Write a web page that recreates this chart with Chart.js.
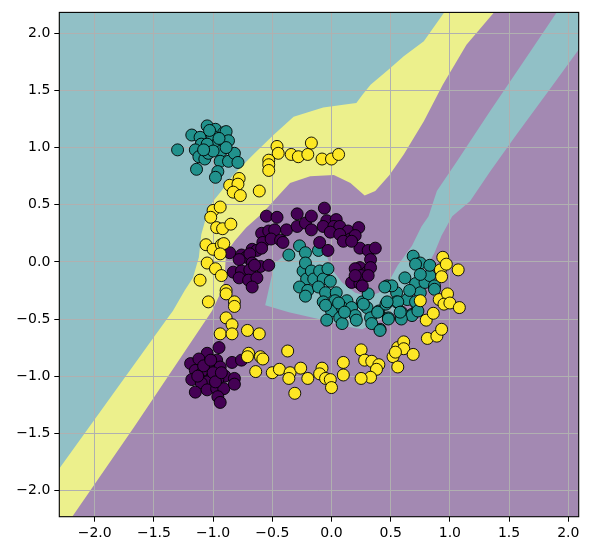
<!DOCTYPE html>
<html>
<head>
<meta charset="UTF-8" />
<title>Decision regions</title>
<style>
  html, body { margin: 0; padding: 0; background: #fff; }
  .wrap { width: 592px; height: 554px; }
</style>
</head>
<body>
<div class="wrap"><canvas id="plot"></canvas></div>
<script src="https://cdn.jsdelivr.net/npm/chart.js@4/dist/chart.umd.min.js"></script>
<script>
// axis ranges and ticks
const xRange = [-2.299, 2.088];
const yRange = [-2.23, 2.183];
const xTicks = [-2.0, -1.5, -1.0, -0.5, 0.0, 0.5, 1.0, 1.5, 2.0];
const yTicks = [-2.0, -1.5, -1.0, -0.5, 0.0, 0.5, 1.0, 1.5, 2.0];

// decision region outlines (data coordinates)
const yellowArea = [
  [-2.4, 2.3], [-2.4, -2.3], [-2.23, -2.3], [-2.19, -2.23], [-1.67, -1.45], [-1.01, -0.43],
  [-0.95, -0.30], [-0.91, -0.19], [-0.90, -0.08], [-0.89, 0.08], [-0.82, 0.18], [-0.72, 0.30],
  [-0.58, 0.43], [-0.43, 0.60], [-0.35, 0.69], [-0.18, 0.75], [0.02, 0.76], [0.16, 0.69],
  [0.28, 0.58], [0.37, 0.62], [0.49, 0.76], [0.61, 0.94], [0.78, 1.23], [0.94, 1.55],
  [1.14, 1.90], [1.37, 2.18], [1.42, 2.3]
];
const tealArea = [
  [-2.4, 2.3], [-2.4, -1.95], [-2.30, -1.81], [-1.39, -0.50], [-1.34, -0.43], [-1.24, -0.25],
  [-1.17, -0.14], [-1.12, 0.04], [-1.10, 0.24], [-1.05, 0.42], [-1.00, 0.53], [-0.93, 0.62],
  [-0.83, 0.76], [-0.66, 0.94], [-0.49, 1.11], [-0.32, 1.27], [-0.07, 1.35], [0.13, 1.38],
  [0.21, 1.39], [0.26, 1.46], [0.33, 1.55], [0.49, 1.69], [0.61, 1.80], [0.78, 1.93],
  [0.95, 2.18], [0.98, 2.3]
];
const tealBand = [
  [1.94, 2.3], [1.90, 2.18], [1.62, 1.75], [1.34, 1.32], [1.06, 0.88], [0.89, 0.62],
  [0.82, 0.40], [0.76, 0.31], [0.68, 0.14], [0.56, -0.03], [0.48, -0.18], [0.40, -0.27],
  [0.31, -0.30], [0.20, -0.27], [0.09, -0.18], [0.00, -0.06], [-0.05, 0.08], [-0.14, 0.11],
  [-0.31, 0.12], [-0.48, -0.01], [-0.56, -0.38], [-0.36, -0.44], [-0.11, -0.50], [0.09, -0.56],
  [0.26, -0.59], [0.37, -0.53], [0.48, -0.47], [0.60, -0.40], [0.72, -0.25], [0.80, -0.05],
  [0.87, 0.08], [0.93, 0.23], [1.02, 0.40], [1.17, 0.53], [1.34, 0.79], [1.56, 1.11],
  [1.85, 1.52], [2.09, 1.86], [2.2, 2.0], [2.2, 2.3]
];

// samples per class
const class0 = [
  [-0.95,-0.75],[-1.05,-0.80],[-1.19,-0.89],[-1.12,-0.85],[-1.15,-0.95],[-1.18,-1.03],[-1.10,-0.98],
  [-1.05,-0.95],[-1.00,-0.91],[-0.97,-0.86],[-0.94,-0.92],[-0.90,-1.00],[-0.96,-1.03],[-1.01,-1.01],
  [-1.05,-1.05],[-1.10,-1.06],[-1.15,-1.14],[-1.05,-1.12],[-0.97,-1.11],[-0.91,-1.11],[-0.96,-1.18],
  [-0.94,-1.23],[-0.84,-0.88],[-0.76,-0.86],[-0.82,-1.02],[-0.82,-1.07],[-1.00,-0.97],[-0.98,-1.05],
  [-1.08,-0.91],[-1.02,-0.86],[-1.13,-1.00],[-0.93,-0.97],
  [-0.55,0.40],[-0.46,0.39],[-0.29,0.42],[-0.59,0.25],[-0.53,0.27],[-0.48,0.28],[-0.38,0.28],
  [-0.29,0.31],[-0.22,0.34],[-0.58,0.17],[-0.51,0.20],[-0.43,0.19],[-0.41,0.17],[-0.67,0.11],
  [-0.63,0.10],[-0.59,0.12],[-0.86,0.08],[-0.76,0.06],[-0.72,0.04],[-0.69,0.07],[-0.78,0.02],
  [-0.67,-0.01],[-0.60,-0.04],[-0.83,-0.09],[-0.76,-0.08],[-0.69,-0.07],[-0.78,-0.14],[-0.70,-0.16],
  [-0.63,-0.14],[-0.67,-0.22],[-0.53,-0.03],[-0.65,-0.03],
  [-0.06,0.47],[-0.17,0.40],[-0.04,0.36],[0.04,0.37],[-0.17,0.28],[-0.07,0.31],[0.02,0.31],
  [0.07,0.31],[0.14,0.27],[0.23,0.30],[-0.01,0.26],[0.07,0.24],[0.16,0.20],[0.20,0.23],
  [-0.10,0.17],[-0.03,0.10],[0.10,0.18],[0.24,0.12],[0.31,0.10],[0.37,0.12],[0.33,0.02],
  [0.24,-0.05],[0.30,-0.09],[0.20,-0.06],[0.17,-0.18],[0.24,-0.19],[0.25,-0.12],[0.33,-0.05],
  [0.20,-0.12],[0.26,-0.21],[0.31,-0.12],[0.17,0.18]
];
const class1 = [
  [-1.30,0.98],[-1.18,1.11],[-1.11,1.09],[-1.05,1.19],[-0.98,1.16],[-0.91,1.13],[-0.89,1.14],
  [-0.87,1.06],[-1.01,1.11],[-1.10,1.03],[-1.15,0.98],[-1.12,0.92],[-1.07,0.90],[-1.04,0.95],
  [-0.97,1.03],[-0.93,0.97],[-0.94,0.88],[-0.87,0.88],[-0.82,0.95],[-0.79,0.87],[-1.14,0.81],
  [-0.96,0.79],[-0.98,0.74],[-0.89,1.00],[-1.05,1.03],[-1.00,0.97],[-1.03,1.15],[-0.95,1.08],
  [-1.08,0.98],
  [-0.36,0.06],[-0.27,0.14],[-0.22,0.08],[-0.11,0.10],[-0.24,-0.08],[-0.21,-0.15],[-0.27,-0.22],
  [-0.20,-0.25],[-0.22,-0.01],[-0.17,-0.08],[-0.15,-0.15],[-0.10,-0.08],[-0.07,-0.15],[-0.03,-0.06],
  [-0.11,-0.22],[-0.22,-0.30],[-0.05,-0.27],[0.04,-0.27],[-0.07,-0.35],[0.03,-0.34],[0.13,-0.34],
  [0.00,-0.43],[0.09,-0.40],[0.17,-0.40],[0.26,-0.35],[0.31,-0.28],[0.30,-0.40],[0.40,-0.43],
  [0.47,-0.21],[0.07,-0.49],[0.20,-0.47],[-0.04,-0.51],[0.33,-0.49],[0.41,-0.59],[0.48,-0.49],
  [0.55,-0.27],[0.09,-0.54],[0.21,-0.51],[0.27,-0.37],[0.34,-0.54],[0.39,-0.44],[0.46,-0.37],
  [-0.01,-0.17],[-0.05,-0.38],[0.06,-0.36],[0.11,-0.44],
  [0.62,-0.14],[0.64,-0.33],[0.68,-0.46],[0.71,-0.19],[0.75,-0.27],[0.79,-0.18],[0.83,-0.12],
  [0.87,-0.21],[0.72,-0.37],[0.59,-0.46],[0.55,-0.35],[0.69,0.05],[0.75,-0.01],[0.83,-0.03],
  [0.71,-0.02],[0.75,-0.11],[0.87,-0.24],[0.66,-0.25],[0.71,-0.35],[0.51,-0.21],[0.45,-0.22],
  [0.56,-0.35],[0.47,-0.35],[0.59,-0.44],[0.68,-0.47],[0.48,-0.50],[0.59,-0.50],[0.41,-0.60],
  [0.73,-0.43],[0.58,-0.44]
];
const class2 = [
  [-0.46,1.01],[-0.45,0.95],[-0.34,0.94],[-0.28,0.92],[-0.20,0.94],[-0.17,1.04],[-0.08,0.90],
  [0.00,0.90],[0.06,0.94],[-0.53,0.89],[-0.53,0.85],[-0.53,0.80],[-0.61,0.62],[-0.78,0.73],
  [-0.86,0.67],[-0.79,0.68],[-0.83,0.61],[-0.77,0.58],[-1.00,0.45],[-0.94,0.48],[-1.02,0.39],
  [-0.97,0.30],[-0.92,0.29],[-0.85,0.33],[-1.06,0.15],[-1.00,0.11],[-0.93,0.15],[-0.91,0.16],
  [-0.94,0.07],[-1.05,-0.01],[-0.98,-0.06],[-0.93,-0.12],[-1.11,-0.16],[-0.89,-0.25],[-0.89,-0.28],
  [-1.04,-0.35],[-0.82,-0.35],[-0.82,-0.39],[-0.89,-0.49],[-0.84,-0.55],[-0.94,-0.63],[-0.84,-0.63],
  [-0.71,-0.60],[-0.61,-0.63],[-0.70,-0.80],[-0.71,-0.83],[-0.60,-0.83],[-0.58,-0.85],[-0.64,-0.96],
  [-0.50,-0.97],[-0.44,-0.94],[-0.37,-0.78],[-0.35,-0.97],[-0.36,-1.02],[-0.31,-1.15],[-0.26,-0.93],
  [-0.20,-1.02],[-0.08,-0.93],[-0.10,-0.98],[-0.05,-1.02],[-0.01,-1.03],[0.00,-1.10],[0.10,-0.88],
  [0.10,-0.99],[0.25,-0.77],[0.28,-0.86],[0.34,-0.87],[0.40,-0.90],[0.38,-0.94],[0.33,-1.01],
  [0.25,-1.02],[0.52,-0.83],[0.56,-0.75],[0.61,-0.70],[0.61,-0.76],[0.69,-0.81],[0.56,-0.92],
  [0.54,-0.79],[0.81,-0.67],[0.89,-0.65],[0.93,-0.59],[0.80,-0.51],[0.86,-0.45],[0.75,-0.34],
  [0.91,-0.33],[0.98,-0.28],[0.95,-0.37],[1.00,-0.36],[1.08,-0.40],[0.92,-0.07],[0.93,-0.13],
  [1.07,-0.07],[0.94,0.04],[0.97,-0.02]
];

const purpleBg = "rgb(163,137,178)";
const yellowBg = "rgb(236,240,140)";
const tealBg = "rgb(145,192,198)";

const toXY = (arr) => arr.map(([x, y]) => ({ x: x, y: y }));
const fmt = (v) => v.toFixed(1).replace("-", "\u2212");

// regions are painted under the grid, frame on top of everything
const regionPlugin = {
  id: "regions",
  beforeDraw(chart) {
    const { ctx, chartArea: a, scales } = chart;
    const sx = scales.x, sy = scales.y;
    ctx.save();
    ctx.beginPath();
    ctx.rect(a.left, a.top, a.right - a.left, a.bottom - a.top);
    ctx.clip();
    ctx.fillStyle = purpleBg;
    ctx.fillRect(a.left, a.top, a.right - a.left, a.bottom - a.top);
    const layers = [[yellowArea, yellowBg], [tealArea, tealBg], [tealBand, tealBg]];
    for (const [pts, color] of layers) {
      ctx.beginPath();
      pts.forEach(([vx, vy], i) => {
        const px = sx.getPixelForValue(vx);
        const py = sy.getPixelForValue(vy);
        if (i) ctx.lineTo(px, py);
        else ctx.moveTo(px, py);
      });
      ctx.closePath();
      ctx.fillStyle = color;
      ctx.fill();
    }
    ctx.restore();
  },
  afterDraw(chart) {
    const { ctx, chartArea: a } = chart;
    ctx.save();
    ctx.strokeStyle = "#000";
    ctx.lineWidth = 1.1;
    ctx.strokeRect(a.left, a.top, a.right - a.left, a.bottom - a.top);
    ctx.restore();
  },
};

const tickFont = { family: "DejaVu Sans", size: 14 };
const gridOpts = { color: "#b0b0b0", lineWidth: 1, tickColor: "#000", tickLength: 5 };

const pointStyle = (color) => ({
  backgroundColor: color,
  borderColor: "#000",
  borderWidth: 0.9,
  pointRadius: 6,
  pointHoverRadius: 6,
});

new Chart(document.getElementById("plot"), {
  type: "scatter",
  data: {
    datasets: [
      { label: "2", data: toXY(class2), ...pointStyle("#fde725") },
      { label: "0", data: toXY(class0), ...pointStyle("#440154") },
      { label: "1", data: toXY(class1), ...pointStyle("#21918c") },
    ],
  },
  options: {
    responsive: true,
    maintainAspectRatio: false,
    animation: false,
    events: [],
    layout: { padding: { left: 0, right: 13.3, top: 10.7, bottom: 0 } },
    plugins: { legend: { display: false }, tooltip: { enabled: false } },
    scales: {
      x: {
        type: "linear",
        min: xRange[0],
        max: xRange[1],
        afterBuildTicks: (s) => { s.ticks = xTicks.map((v) => ({ value: v })); },
        afterFit: (s) => { s.height = 37.3; },
        grid: gridOpts,
        border: { display: false },
        ticks: { font: tickFont, color: "#000", padding: 3, maxRotation: 0, callback: (v) => fmt(v) },
      },
      y: {
        type: "linear",
        min: yRange[0],
        max: yRange[1],
        afterBuildTicks: (s) => { s.ticks = yTicks.map((v) => ({ value: v })); },
        afterFit: (s) => { s.width = 59.3; },
        grid: gridOpts,
        border: { display: false },
        ticks: { font: tickFont, color: "#000", padding: 4, callback: (v) => fmt(v) },
      },
    },
  },
  plugins: [regionPlugin],
});
</script>
</body>
</html>
